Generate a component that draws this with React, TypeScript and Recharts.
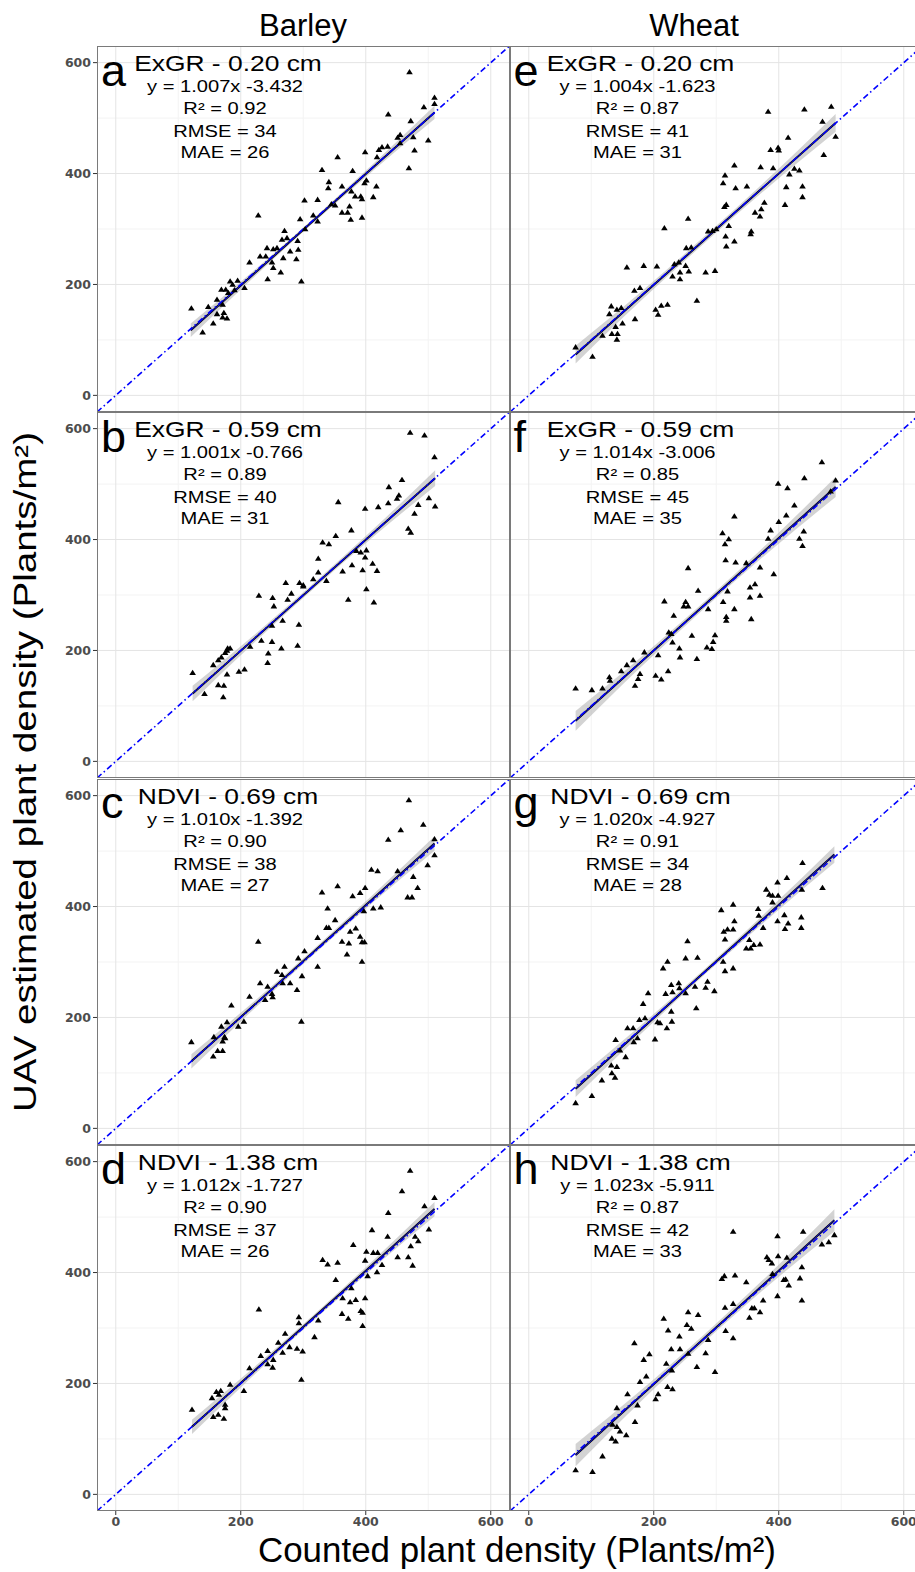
import React from "react";
import {
  ComposedChart,
  XAxis,
  YAxis,
  CartesianGrid,
  Scatter,
  Line,
  Area,
  ReferenceLine,
} from "recharts";

// points: [counted, uav estimated]
const barleyExgr020 = [
  [470,583],[510,537],[510,526],[493,520],[436,507],[472,495],[500,460],[455,470],[451,465],[476,466],
  [478,442],[469,410],[426,448],[435,449],[399,439],[418,430],[379,405],[355,430],[330,407],[341,385],
  [340,374],[362,377],[401,388],[398,383],[417,377],[377,368],[383,359],[392,359],[394,354],[412,358],
  [374,341],[351,343],[362,330],[371,330],[376,317],[394,321],[323,353],[302,352],[316,325],[323,314],
  [295,318],[228,325],[270,297],[266,281],[274,284],[291,279],[292,263],[289,246],[279,260],[268,248],
  [258,266],[252,264],[242,266],[240,251],[231,251],[250,240],[252,230],[264,222],[243,210],[214,240],
  [297,206],[206,194],[195,207],[183,206],[187,200],[169,191],[176,191],[162,173],[171,164],[162,147],
  [173,149],[171,141],[178,139],[156,130],[139,114],[121,157],[148,160],[421,443],[303,300],[345,345],
  [180,185],[455,455],[190,190],
];
const barleyExgr059 = [
  [471,593],[494,588],[510,549],[458,508],[437,495],[453,480],[436,466],[450,474],[484,463],[501,475],
  [511,460],[478,447],[468,420],[472,413],[420,459],[399,456],[356,468],[377,417],[352,407],[331,395],
  [341,392],[324,366],[392,377],[401,381],[399,368],[378,354],[363,343],[395,345],[411,357],[418,344],
  [324,341],[316,329],[337,326],[294,322],[300,316],[272,322],[281,303],[275,292],[229,299],[251,295],
  [253,280],[372,292],[401,311],[413,287],[267,254],[293,247],[250,245],[233,218],[250,216],[215,207],
  [244,195],[265,204],[291,209],[243,178],[179,204],[183,204],[175,196],[169,188],[156,174],[164,183],
  [178,157],[197,162],[206,166],[164,138],[173,137],[172,116],[142,122],[123,160],[178,200],[385,380],
  [300,318],
];
const barleyNdvi069 = [
  [469,592],[492,548],[456,538],[436,521],[510,522],[510,493],[499,475],[409,467],[419,464],[451,464],
  [476,454],[483,434],[467,417],[474,417],[355,437],[330,426],[379,419],[391,425],[399,434],[339,397],
  [412,397],[424,399],[397,392],[351,376],[337,362],[341,362],[384,361],[375,355],[323,344],[362,337],
  [373,334],[391,346],[394,336],[398,336],[370,314],[394,301],[302,320],[292,307],[228,337],[323,292],
  [298,275],[270,292],[258,283],[266,277],[279,262],[267,262],[290,250],[231,262],[243,256],[250,243],
  [251,237],[214,238],[239,232],[297,193],[185,222],[169,184],[178,192],[196,184],[205,193],[174,165],
  [171,157],[157,165],[121,156],[163,140],[171,140],[156,130],[175,163],
];
const barleyNdvi138 = [
  [471,584],[458,547],[510,535],[494,520],[436,508],[410,477],[435,465],[501,478],[479,465],[484,457],
  [472,448],[380,450],[401,438],[412,436],[419,436],[451,428],[468,428],[475,413],[399,422],[426,414],
  [418,401],[403,394],[331,423],[339,415],[355,418],[352,387],[377,372],[363,354],[375,347],[384,351],
  [399,354],[392,331],[395,328],[362,326],[372,317],[395,304],[229,334],[293,320],[293,309],[324,314],
  [318,284],[271,290],[260,274],[278,266],[290,263],[299,258],[267,256],[243,259],[232,250],[252,243],
  [243,235],[251,229],[214,228],[297,207],[183,198],[168,187],[161,185],[205,187],[154,174],[175,162],
  [175,156],[122,153],[156,140],[164,144],[173,137],[165,180],
];
const wheatExgr020 = [
  [383,512],[441,516],[484,521],[470,494],[491,467],[415,465],[387,443],[399,447],[400,442],[472,434],
  [329,415],[371,412],[391,410],[417,399],[433,406],[425,409],[314,397],[311,383],[331,374],[349,377],
  [412,376],[438,377],[438,358],[410,344],[377,348],[372,336],[362,330],[370,323],[316,344],[313,340],
  [320,306],[315,287],[316,269],[329,278],[356,296],[355,291],[287,296],[294,297],[255,319],[217,302],
  [252,266],[260,267],[251,234],[256,224],[242,222],[242,210],[230,215],[283,222],[298,225],[269,171],
  [233,237],[205,233],[184,234],[157,231],[178,194],[169,189],[222,164],[212,162],[203,155],[207,146],
  [170,138],[132,161],[141,155],[148,158],[129,147],[150,130],[139,124],[133,111],[142,111],[141,101],
  [75,87],[102,70],[118,108],[240,240],[300,300],
];
const wheatExgr059 = [
  [469,540],[441,511],[399,501],[414,493],[491,507],[483,487],[425,462],[412,444],[400,432],[387,417],
  [329,442],[440,415],[433,402],[438,389],[383,402],[310,412],[320,401],[314,392],[315,363],[331,359],
  [348,358],[370,350],[392,338],[255,349],[271,308],[362,320],[354,314],[354,296],[370,299],[318,307],
  [311,288],[329,275],[316,261],[316,254],[356,257],[287,275],[217,289],[251,288],[255,280],[232,263],
  [224,233],[261,227],[298,228],[295,216],[285,206],[293,203],[230,215],[241,204],[242,188],[269,185],
  [207,192],[185,197],[167,183],[157,174],[148,163],[129,152],[130,146],[178,158],[175,149],[170,137],
  [203,155],[212,148],[223,163],[75,132],[101,129],[118,132],[248,280],[228,230],
];
const wheatNdvi069 = [
  [438,479],[413,452],[398,444],[380,431],[385,422],[390,420],[399,420],[390,408],[470,434],[437,431],
  [327,404],[308,394],[367,396],[368,384],[329,374],[375,362],[398,374],[409,385],[415,370],[410,360],
  [436,381],[436,362],[318,359],[312,355],[327,359],[314,341],[353,340],[348,325],[355,325],[360,331],
  [370,332],[254,338],[251,307],[270,308],[222,301],[215,289],[311,301],[314,284],[327,289],[228,259],
  [240,262],[241,253],[230,246],[251,244],[219,243],[266,256],[283,254],[286,265],[297,248],[191,244],
  [183,225],[268,217],[228,211],[229,193],[206,192],[210,190],[221,181],[177,196],[186,199],[158,181],
  [167,181],[174,163],[168,156],[202,161],[139,160],[146,141],[155,129],[132,114],[141,111],[133,100],
  [138,92],[117,87],[101,59],[75,46],
];
const wheatNdvi138 = [
  [327,474],[439,474],[398,466],[489,468],[469,451],[480,455],[381,428],[384,423],[389,417],[399,430],
  [413,427],[437,410],[390,398],[411,388],[434,390],[437,350],[408,387],[416,377],[398,358],[313,394],
  [309,389],[330,395],[348,383],[375,350],[357,336],[361,336],[370,329],[353,319],[314,337],[327,344],
  [315,295],[327,282],[255,329],[271,324],[216,317],[253,306],[260,299],[223,296],[241,285],[287,279],
  [169,273],[193,253],[184,243],[228,262],[242,262],[283,255],[255,254],[220,236],[229,224],[269,230],
  [298,221],[188,213],[178,203],[222,194],[230,190],[207,181],[203,172],[158,181],[174,161],[170,131],
  [141,156],[134,126],[141,122],[146,114],[156,107],[133,101],[139,96],[118,69],[75,44],[102,41],
];

// panel order: a b c d (barley), e f g h (wheat)
const panelPoints = [
  barleyExgr020, barleyExgr059, barleyNdvi069, barleyNdvi138,
  wheatExgr020, wheatExgr059, wheatNdvi069, wheatNdvi138,
];
const panelLetters = ["a", "b", "c", "d", "e", "f", "g", "h"];
const panelTitles = [
  "ExGR - 0.20 cm", "ExGR - 0.59 cm", "NDVI - 0.69 cm", "NDVI - 1.38 cm",
  "ExGR - 0.20 cm", "ExGR - 0.59 cm", "NDVI - 0.69 cm", "NDVI - 1.38 cm",
];
const slopes = [1.007, 1.001, 1.01, 1.012, 1.004, 1.014, 1.02, 1.023];
const intercepts = [-3.432, -0.766, -1.392, -1.727, -1.623, -3.006, -4.927, -5.911];
const equations = [
  "y = 1.007x -3.432", "y = 1.001x -0.766", "y = 1.010x -1.392", "y = 1.012x -1.727",
  "y = 1.004x -1.623", "y = 1.014x -3.006", "y = 1.020x -4.927", "y = 1.023x -5.911",
];
const r2Values = ["0.92", "0.89", "0.90", "0.90", "0.87", "0.85", "0.91", "0.87"];
const rmseValues = [34, 40, 38, 37, 41, 45, 34, 42];
const maeValues = [26, 31, 27, 26, 31, 35, 28, 33];
const fitXMin = [120, 123, 121, 122, 75, 75, 75, 75];
const fitXMax = [510, 511, 510, 510, 491, 491, 489, 489];
// half width of the grey confidence band (start, quarter, middle, 3/4, end)
const bandHalf = [
  [12, 6, 4, 6, 12],
  [14, 7, 5, 7, 14],
  [13, 7, 5, 7, 13],
  [13, 7, 5, 7, 13],
  [16, 8, 6, 8, 16],
  [18, 9, 6, 9, 18],
  [15, 8, 5, 8, 15],
  [20, 10, 7, 10, 20],
];

const axisTicks = [0, 200, 400, 600];
const gridMinor = [100, 300, 500];
const domain: [number, number] = [-30, 630];

const PLOT_W = 412.5;
const PLOT_H = 366;
const LEFT0 = 97;
const TOP0 = 46;
const ROW_STEP = 366.3;
const FONT = "'Liberation Sans', Arial, sans-serif";

const tickStyle = {
  fontFamily: "'DejaVu Sans', sans-serif",
  fontWeight: "bold",
  fontSize: 12.5,
  fill: "#4d4d4d",
};

const Tri = (props: any) => {
  const { cx, cy } = props;
  if (cx == null || cy == null) return null;
  return (
    <path
      d={`M${cx},${cy - 3} L${cx + 3.3},${cy + 2.3} L${cx - 3.3},${cy + 2.3} Z`}
      fill="#000"
    />
  );
};

const Panel = ({ idx }: { idx: number }) => {
  const col = idx < 4 ? 0 : 1;
  const row = idx % 4;
  const bottom = row === 3;
  const top = TOP0 + row * ROW_STEP;
  const left = col === 0 ? 0 : LEFT0 + PLOT_W;
  const yAxisW = col === 0 ? LEFT0 : 0;

  const pts = panelPoints[idx].map(([x, y]) => ({ x, y }));
  const x0 = fitXMin[idx];
  const x1 = fitXMax[idx];
  const fit = [
    { x: x0, y: slopes[idx] * x0 + intercepts[idx] },
    { x: x1, y: slopes[idx] * x1 + intercepts[idx] },
  ];
  const band = bandHalf[idx].map((h, i) => {
    const x = x0 + ((x1 - x0) * i) / 4;
    const yy = slopes[idx] * x + intercepts[idx];
    return { x, band: [yy - h, yy + h] };
  });

  return (
    <div style={{ position: "absolute", left, top }}>
      <ComposedChart
        width={yAxisW + PLOT_W}
        height={PLOT_H + (bottom ? 30 : 0)}
        margin={{ top: 0, right: 0, bottom: 0, left: 0 }}
      >
        <CartesianGrid
          stroke="#f3f3f3"
          horizontalValues={gridMinor}
          verticalValues={gridMinor}
        />
        <CartesianGrid
          stroke="#e4e4e4"
          horizontalValues={axisTicks}
          verticalValues={axisTicks}
        />
        <XAxis
          type="number"
          dataKey="x"
          domain={domain}
          ticks={axisTicks}
          allowDataOverflow
          hide={!bottom}
          height={30}
          axisLine={false}
          tickSize={4}
          tickMargin={2}
          tickLine={{ stroke: "#333" }}
          tick={tickStyle}
          interval={0}
        />
        <YAxis
          type="number"
          dataKey="y"
          domain={domain}
          ticks={axisTicks}
          allowDataOverflow
          hide={col !== 0}
          width={LEFT0}
          axisLine={false}
          tickSize={4}
          tickMargin={2}
          tickLine={{ stroke: "#333" }}
          tick={tickStyle}
          interval={0}
        />
        <Scatter data={pts} dataKey="y" shape={Tri} isAnimationActive={false} />
        <Area
          data={band}
          dataKey="band"
          type="monotone"
          stroke="none"
          fill="#a8a8a8"
          fillOpacity={0.5}
          isAnimationActive={false}
        />
        <Line data={fit} dataKey="y" dot={false} stroke="#000" strokeWidth={2} isAnimationActive={false} />
        <Line data={fit} dataKey="y" dot={false} stroke="#1a1aff" strokeWidth={0.8} isAnimationActive={false} />
        <ReferenceLine
          segment={[{ x: -30, y: -30 }, { x: 630, y: 630 }]}
          stroke="#0000ff"
          strokeWidth={1.6}
          strokeDasharray="6 3 1.5 3"
          ifOverflow="hidden"
        />
      </ComposedChart>
      <div
        style={{
          position: "absolute",
          left: yAxisW,
          top: 0,
          width: PLOT_W,
          height: PLOT_H,
          border: "1px solid #7a7a7a",
          boxSizing: "border-box",
          pointerEvents: "none",
        }}
      />
    </div>
  );
};

const Labels = () => (
  <svg
    width={915}
    height={1572}
    style={{ position: "absolute", left: 0, top: 0, pointerEvents: "none" }}
    fontFamily={FONT}
  >
    <text x={303} y={36} fontSize={31} textAnchor="middle">Barley</text>
    <text x={694} y={36} fontSize={31} textAnchor="middle">Wheat</text>
    <text x={517} y={1562} fontSize={35} textAnchor="middle" textLength={518} lengthAdjust="spacingAndGlyphs">
      Counted plant density (Plants/m²)
    </text>
    <text
      transform="translate(36,772) rotate(-90)"
      fontSize={31}
      textAnchor="middle"
      textLength={680}
      lengthAdjust="spacingAndGlyphs"
    >
      UAV estimated plant density (Plants/m²)
    </text>
    {panelLetters.map((letter, idx) => {
      const col = idx < 4 ? 0 : 1;
      const row = idx % 4;
      const px = col === 0 ? LEFT0 : LEFT0 + PLOT_W;
      const py = TOP0 + row * ROW_STEP;
      const lines = [
        equations[idx],
        `R² = ${r2Values[idx]}`,
        `RMSE = ${rmseValues[idx]}`,
        `MAE = ${maeValues[idx]}`,
      ];
      const offs = [46, 68, 91, 112];
      return (
        <g key={letter}>
          <text x={px + 4} y={py + 39.5} fontSize={45}>{letter}</text>
          <text
            transform={`translate(${px + 131},${py + 25}) scale(1.2,1)`}
            fontSize={22}
            textAnchor="middle"
          >
            {panelTitles[idx]}
          </text>
          {lines.map((t, i) => (
            <text
              key={i}
              transform={`translate(${px + 128},${py + offs[i]}) scale(1.22,1)`}
              fontSize={16.5}
              textAnchor="middle"
            >
              {t}
            </text>
          ))}
        </g>
      );
    })}
  </svg>
);

export default function App() {
  return (
    <div
      style={{
        position: "absolute",
        left: 0,
        top: 0,
        width: 915,
        height: 1572,
        overflow: "hidden",
        background: "#fff",
      }}
    >
      {panelPoints.map((_, i) => (
        <Panel key={i} idx={i} />
      ))}
      <Labels />
    </div>
  );
}
